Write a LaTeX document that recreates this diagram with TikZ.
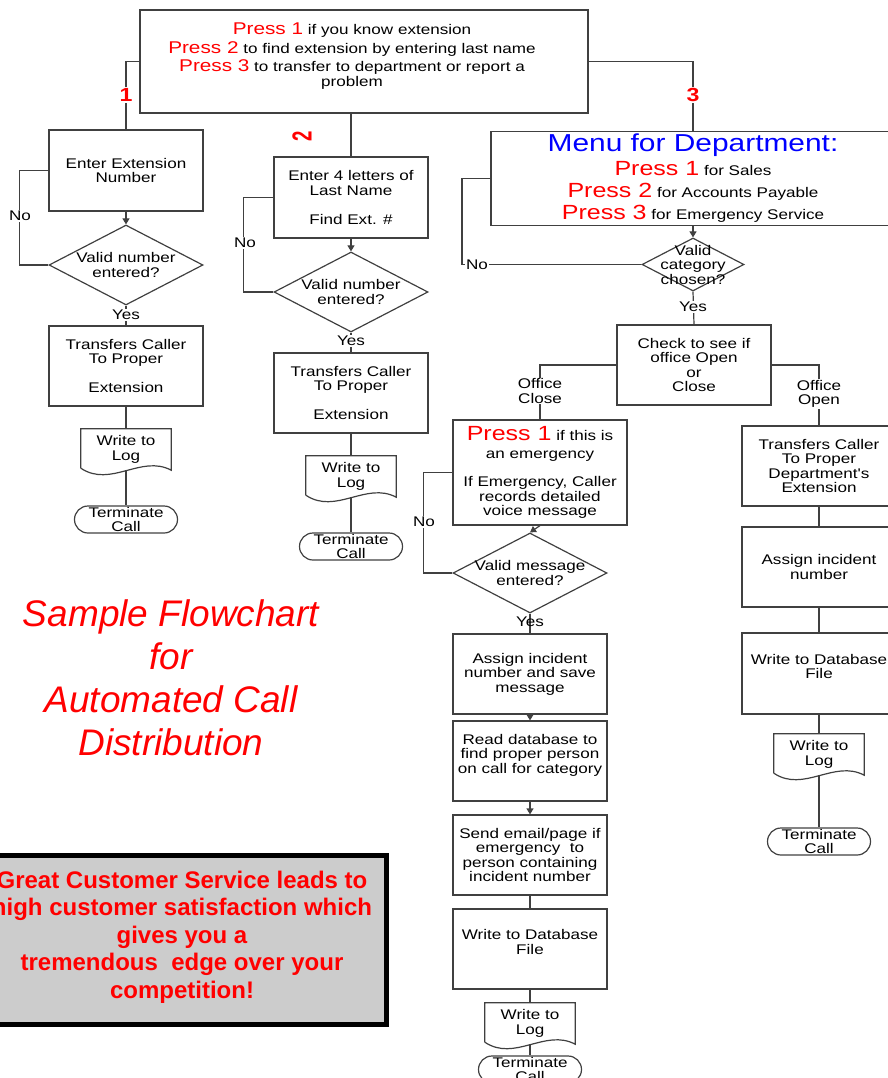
\documentclass[tikz,border=0pt]{standalone}
\usepackage{fontspec}
\setmainfont{Liberation Sans}
\newfontfamily\chartfont{Liberation Sans}[FakeStretch=1.22]
\usetikzlibrary{arrows.meta,shapes.geometric}
\definecolor{edge}{RGB}{64,64,64}
\newcommand{\press}[2]{{\color{red}\fontsize{#1}{#1}\selectfont Press #2}}
\newcommand{\logsheet}[1]{\draw[chart] ([yshift=2pt]#1.south west) -- (#1.north west) -- (#1.north east) -- (#1.south east)
  .. controls +(-30pt,16pt) and +(30pt,-20pt) .. ([yshift=2pt]#1.south west);}

\begin{document}
\begin{tikzpicture}[x=1pt,y=-1pt,
  chart/.style={draw=edge,line width=1.2pt},
  body/.style={font=\chartfont\fontsize{14}{14.5}\selectfont},
  stepbox/.style={chart,body,rectangle,minimum width=154pt,minimum height=80pt,inner sep=0pt,align=center},
  decision/.style={chart,diamond,minimum width=154pt,minimum height=80pt,inner sep=0pt},
  asktext/.style={body,align=center,inner sep=0pt},
  ender/.style={chart,body,rectangle,rounded corners=13.5pt,minimum width=103pt,minimum height=27pt,inner sep=0pt,align=center},
  logdoc/.style={body,minimum width=90pt,minimum height=41pt,inner sep=0pt,align=center},
  flow/.style={chart,-{Triangle[length=6pt,width=7pt]}},
  tag/.style={body,fill=white,inner sep=1pt,align=center},
  keynum/.style={fill=white,inner sep=1pt,text=red,font=\chartfont\bfseries\fontsize{19}{19}\selectfont}]

\useasboundingbox (0,0) rectangle (888,1078);

\node[chart,minimum width=448pt,minimum height=103pt] (topbox) at (364,61.5) {};
\node[body,align=center,inner sep=0pt] (toptext) at (352,56) {\press{17}{1} if you know extension\\[3pt]
  \press{17}{2} to find extension by entering last name\\[3pt]
  \press{17}{3} to transfer to department or report a\\
  problem};

% option 1
\node[stepbox,minimum height=81pt] (ext) at (126,170.5) {Enter Extension\\Number};
\node[decision,label={[asktext]center:Valid number\\entered?}] (valid1) at (126,265) {};
\node[stepbox] (xfer1) at (126,366) {Transfers Caller\\To Proper\\[14.5pt]Extension};
\node[logdoc] (log1) at (126,449.5) {Write to\\Log};
\node[ender] (end1) at (126,519.5) {Terminate\\Call};

\draw[chart] (topbox.west) -| (ext.north);
\node[keynum] (key1) at (126,95) {1};
\draw[flow] (ext) -- (valid1);
\draw[chart] (valid1.west) -- ++(-29,0) |- (ext.west);
\node[tag] (no1) at (20,216) {No};
\draw[chart] (valid1.south) -- (xfer1.north);
\node[tag] (yes1) at (126,315) {Yes};
\draw[chart] (xfer1) -- (log1);
\logsheet{log1}
\draw[chart] (log1.south) -- (end1.north);

% option 2
\node[stepbox,minimum height=81pt] (find) at (351,197.5) {Enter 4 letters of\\Last Name\\[14.5pt]Find Ext. \#};
\node[decision,label={[asktext]center:Valid number\\entered?}] (valid2) at (351,292) {};
\node[stepbox] (xfer2) at (351,393) {Transfers Caller\\To Proper\\[14.5pt]Extension};
\node[logdoc] (log2) at (351,476.5) {Write to\\Log};
\node[ender] (end2) at (351,546.5) {Terminate\\Call};

\draw[chart] (find.north |- topbox.south) -- (find.north);
\node[keynum,rotate=90,yscale=1.45,xscale=0.8] (key2) at (302,136) {2};
\draw[flow] (find) -- (valid2);
\draw[chart] (valid2.west) -- ++(-30,0) |- (find.west);
\node[tag] (no2) at (245,243) {No};
\draw[chart] (valid2.south) -- (xfer2.north);
\node[tag] (yes2) at (351,341) {Yes};
\draw[chart] (xfer2) -- (log2);
\logsheet{log2}
\draw[chart] (log2.south) -- (end2.north);

% option 3
\node[chart,minimum width=404pt,minimum height=94pt,align=center,inner sep=0pt,font=\chartfont\fontsize{14}{22}\selectfont] (menu) at (693,178.5)
  {{\color{blue}\fontsize{24.5}{24.5}\selectfont Menu for Department:}\\[2pt]
  \press{20.5}{1} for Sales\\
  \press{20.5}{2} for Accounts Payable\\
  \press{20.5}{3} for Emergency Service};
\node[decision,minimum width=102pt,minimum height=53pt,label={[asktext]center:Valid\\category\\chosen?}] (valid3) at (693,264.5) {};
\node[stepbox] (check) at (694,365) {Check to see if\\office Open\\or\\Close};

\draw[chart] (topbox.east) -| (menu.north);
\node[keynum] (key3) at (693,95) {3};
\draw[flow] (menu) -- (valid3);
\draw[chart] (valid3.west) -- (462,264.5) |- (menu.west);
\node[tag] (no3) at (477,264.5) {No};
\draw[chart] (valid3.south) -- (check.north);
\node[tag] (yes3) at (693,307) {Yes};

% office closed
\node[stepbox,minimum width=174pt,minimum height=105pt] (press) at (540,472.5) {\press{20.5}{1} if this is\\[3.5pt]
  an emergency\\[13.5pt]
  If Emergency, Caller\\records detailed\\voice message};
\node[decision,label={[asktext]center:Valid message\\entered?}] (valid4) at (530,573) {};
\node[stepbox] (assign) at (530,674) {Assign incident\\number and save\\message};
\node[stepbox] (read) at (530,761) {Read database to\\find proper person\\on call for category\\~};
\node[stepbox] (send) at (530,855) {Send email/page if\\emergency\ \ to\\person containing\\incident number};
\node[stepbox] (dbfile) at (530,949) {Write to Database\\File\\~};
\node[logdoc] (log3) at (530,1023.5) {Write to\\Log};
\node[ender] (end3) at (530,1069.5) {Terminate\\Call};

\draw[chart] (check.west) -| (press.north);
\node[tag] (shut) at (540,391) {Office\\Close};
\draw[flow] (press.south) -- (valid4.north);
\draw[chart] (valid4.west) -- ++(-29,0) |- (press.west);
\node[tag] (no4) at (424,522) {No};
\draw[chart] (valid4.south) -- (assign.north);
\node[tag,fill=none] (yes4) at (530,622) {Yes};
\draw[flow] (assign) -- (read);
\draw[flow] (read) -- (send);
\draw[chart] (send) -- (dbfile);
\draw[chart] (dbfile) -- (log3);
\logsheet{log3}
\draw[chart] (log3.south) -- (end3.north);

% office open
\node[stepbox] (xfer3) at (819,466) {Transfers Caller\\To Proper\\Department's\\Extension};
\node[stepbox] (incident) at (819,567) {Assign incident\\number};
\node[stepbox,minimum height=81pt] (dbfile2) at (819,673.5) {Write to Database\\File\\~};
\node[logdoc] (log4) at (819,754.5) {Write to\\Log};
\node[ender] (end4) at (819,841.5) {Terminate\\Call};

\draw[chart] (check.east) -| (xfer3.north);
\node[tag] (open) at (819,394) {Office\\Open};
\draw[chart] (xfer3) -- (incident);
\draw[chart] (incident) -- (dbfile2);
\draw[chart] (dbfile2) -- (log4);
\logsheet{log4}
\draw[chart] (log4.south) -- (end4.north);

% title and slogan
\node[text=red,align=center,font=\itshape\fontsize{37}{43}\selectfont] (title) at (171,677.5)
  {Sample Flowchart\\for\\Automated Call\\Distribution};
\node[draw=black,line width=5pt,fill=black!20,minimum width=409pt,minimum height=169pt] (slogan) at (182,940) {};
\node[text=red,align=center,inner sep=0pt,font=\bfseries\fontsize{24}{27.5}\selectfont] (slogantext) at (182,937)
  {Great Customer Service leads to\\high customer satisfaction which\\gives you a\\tremendous\ \ edge over your\\competition!};

\end{tikzpicture}
\end{document}
